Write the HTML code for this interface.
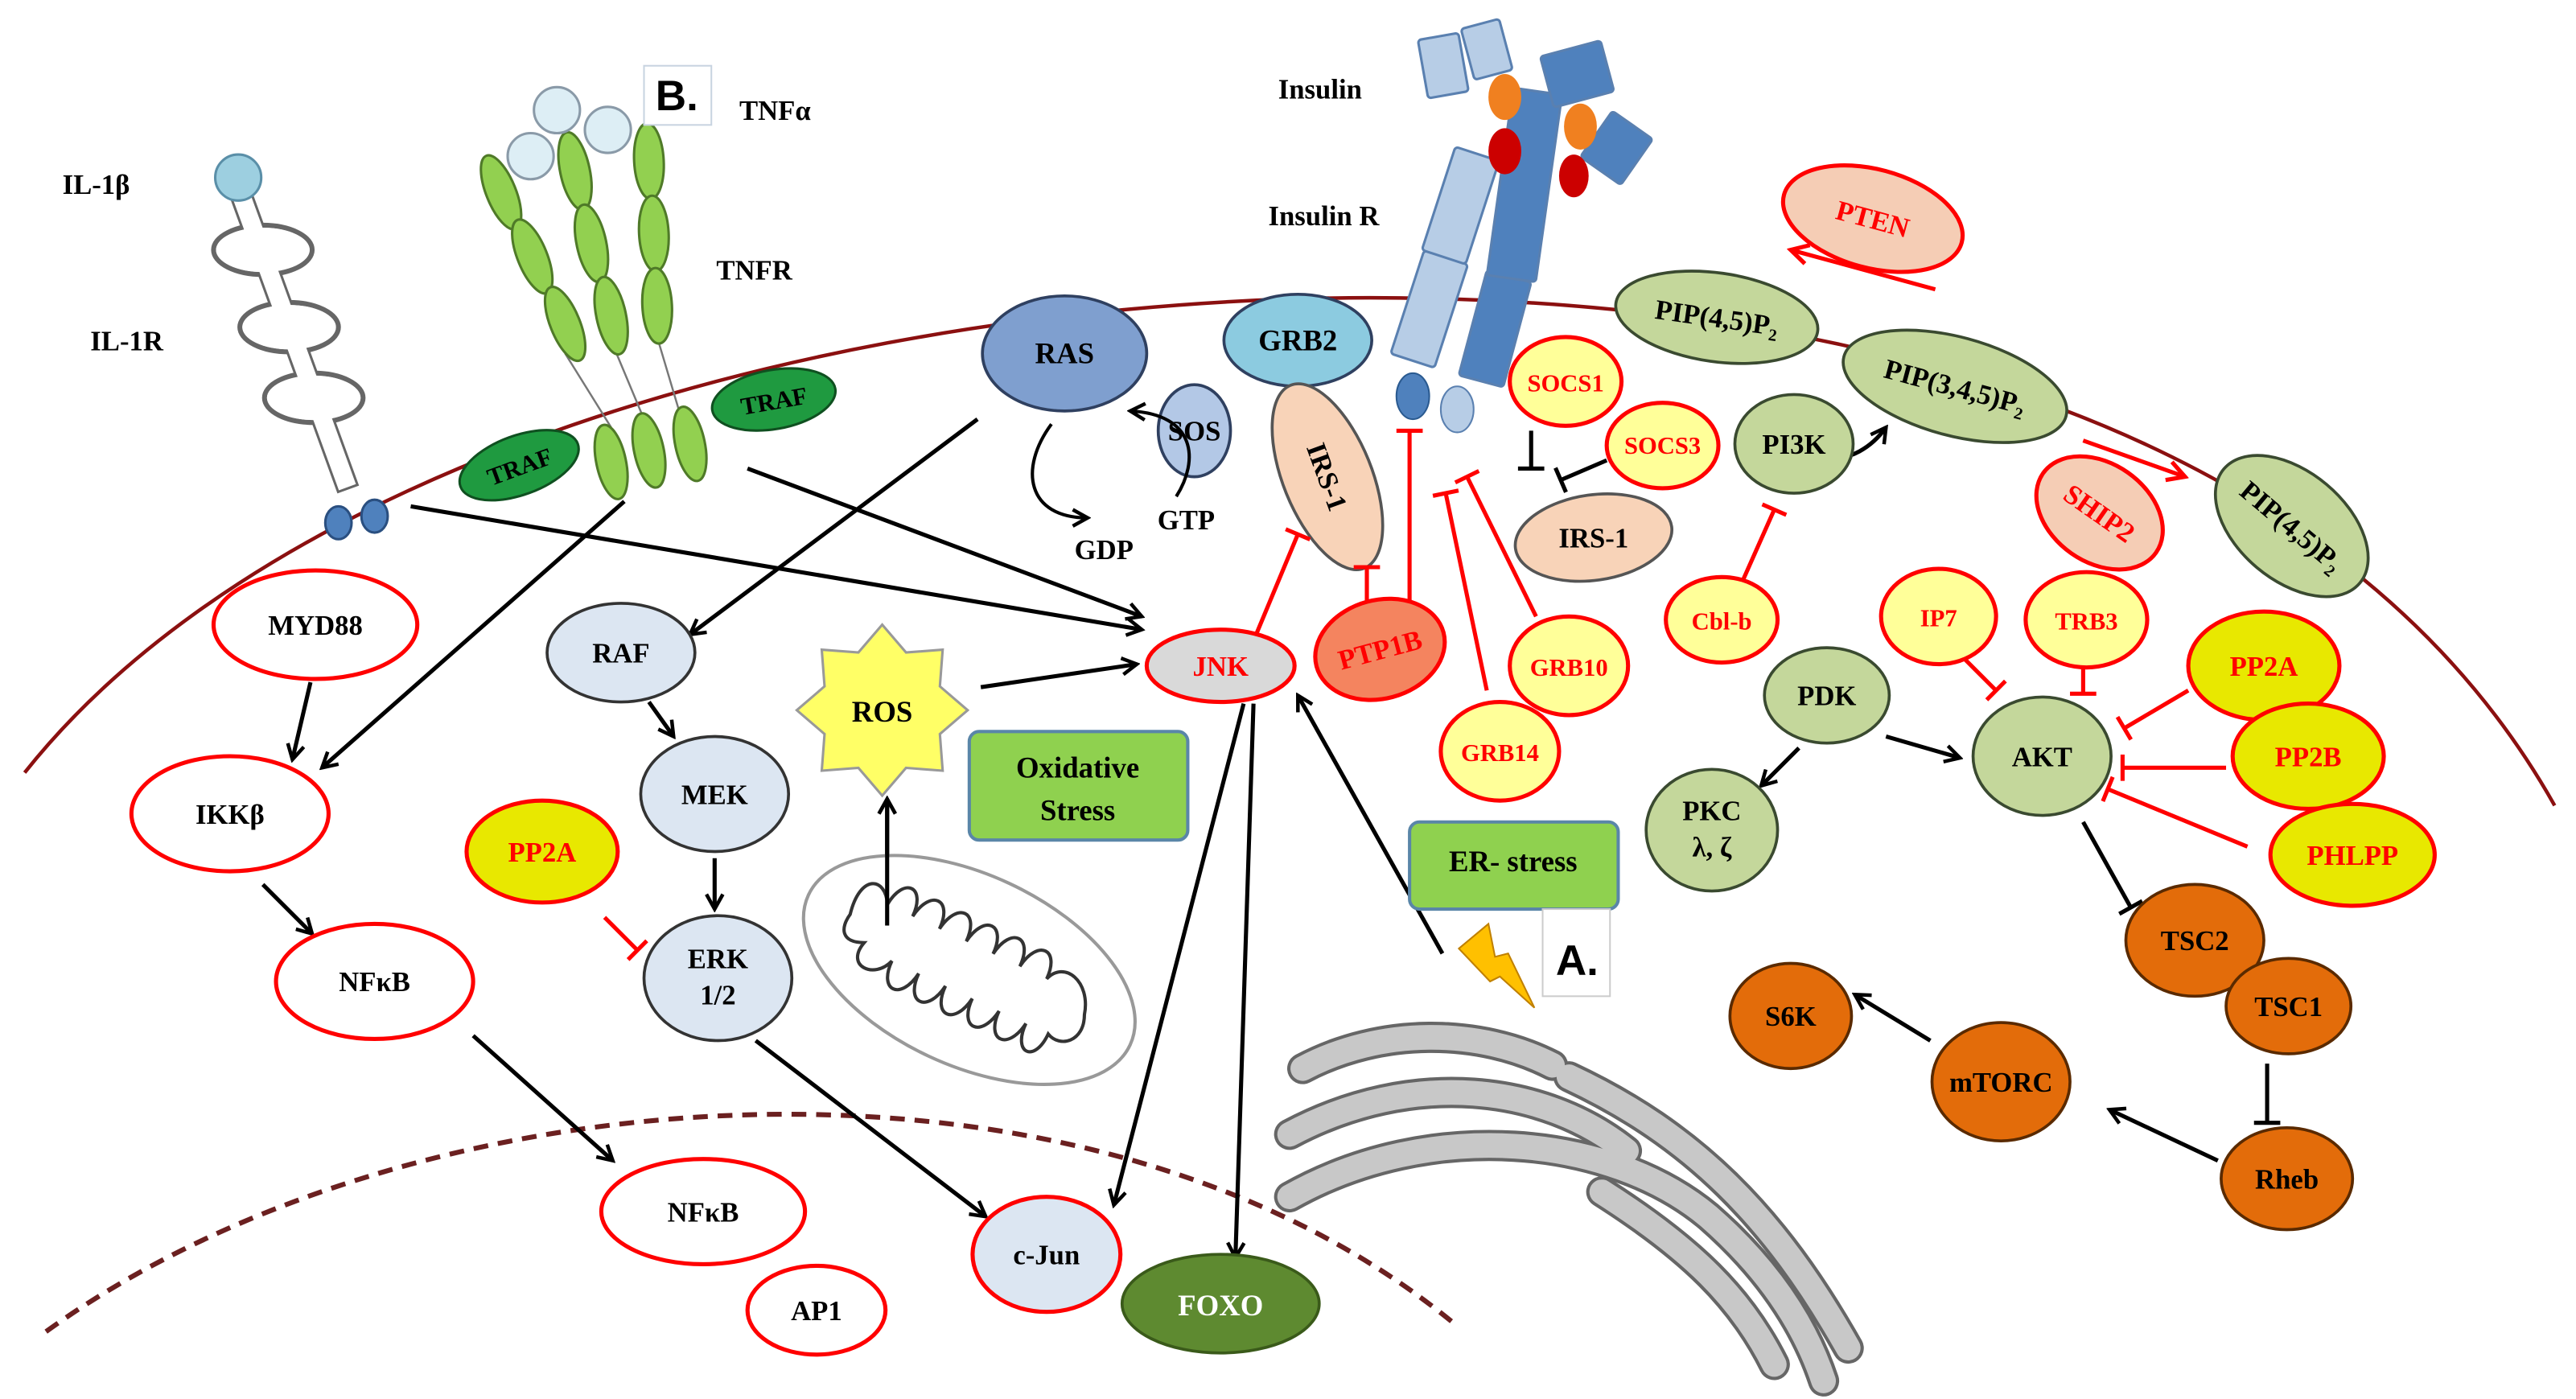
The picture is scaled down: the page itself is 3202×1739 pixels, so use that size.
<!DOCTYPE html>
<html><head><meta charset="utf-8">
<style>
html,body{margin:0;padding:0;background:#fff;}
svg{display:block;}
text{font-family:"Liberation Serif",serif;font-weight:bold;}
</style></head>
<body>
<svg width="3202" height="1739" viewBox="0 0 1568 851" preserveAspectRatio="none" xmlns="http://www.w3.org/2000/svg">
<defs>
<marker id="ab" viewBox="0 0 12 12" refX="10" refY="6" markerWidth="12" markerHeight="12" markerUnits="userSpaceOnUse" orient="auto">
<path d="M1,1 L10,6 L1,11" fill="none" stroke="#000" stroke-width="2.2"/></marker>
<marker id="ar" viewBox="0 0 12 12" refX="10" refY="6" markerWidth="14" markerHeight="14" markerUnits="userSpaceOnUse" orient="auto">
<path d="M1,1 L10,6 L1,11" fill="none" stroke="#f00" stroke-width="2.2"/></marker>
</defs>

<!-- membranes -->
<path d="M15,470 C150,300 450,195 780,182 C1100,172 1420,250 1555,490" fill="none" stroke="#8b1010" stroke-width="2.2"/>
<path d="M28,810 C250,650 660,620 885,805" fill="none" stroke="#6b2020" stroke-width="3" stroke-dasharray="9,6"/>

<!-- IL-1R -->
<g stroke="#666" stroke-width="3" fill="#fff">
<rect x="141" y="118" width="11" height="190" transform="rotate(-20 146 118)"/>
<ellipse cx="160" cy="152" rx="30" ry="15"/>
<ellipse cx="176" cy="199" rx="30" ry="15"/>
<ellipse cx="191" cy="242" rx="30" ry="15"/>
</g>
<g fill="#fff">
<rect x="141" y="118" width="11" height="190" transform="rotate(-20 146 118)"/>
<ellipse cx="160" cy="152" rx="28.5" ry="13.5"/>
<ellipse cx="176" cy="199" rx="28.5" ry="13.5"/>
<ellipse cx="191" cy="242" rx="28.5" ry="13.5"/>
</g>
<circle cx="145" cy="108" r="14" fill="#9dcfe0" stroke="#5a8fa8" stroke-width="1.5"/>
<ellipse cx="206" cy="318" rx="8" ry="10" fill="#4f81bd" stroke="#2a4f80" stroke-width="1.5"/>
<ellipse cx="228" cy="314" rx="8" ry="10" fill="#4f81bd" stroke="#2a4f80" stroke-width="1.5"/>

<!-- TNFR -->
<g stroke="#777" stroke-width="1.2">
<line x1="344" y1="215" x2="372" y2="260"/>
<line x1="374" y1="212" x2="392" y2="255"/>
<line x1="400" y1="205" x2="414" y2="252"/>
</g>
<g fill="#92d050" stroke="#4f7a28" stroke-width="1.5">
<ellipse cx="305" cy="117" rx="9" ry="24" transform="rotate(-22 305 117)"/>
<ellipse cx="324" cy="156" rx="9" ry="24" transform="rotate(-22 324 156)"/>
<ellipse cx="344" cy="197" rx="9" ry="24" transform="rotate(-22 344 197)"/>
<ellipse cx="350" cy="104" rx="9" ry="24" transform="rotate(-12 350 104)"/>
<ellipse cx="360" cy="148" rx="9" ry="24" transform="rotate(-12 360 148)"/>
<ellipse cx="372" cy="192" rx="9" ry="24" transform="rotate(-12 372 192)"/>
<ellipse cx="395" cy="98" rx="9" ry="23" transform="rotate(-3 395 98)"/>
<ellipse cx="398" cy="142" rx="9" ry="23" transform="rotate(-3 398 142)"/>
<ellipse cx="400" cy="186" rx="9" ry="23" transform="rotate(-3 400 186)"/>
<ellipse cx="372" cy="281" rx="9" ry="23" transform="rotate(-12 372 281)"/>
<ellipse cx="395" cy="274" rx="9" ry="23" transform="rotate(-12 395 274)"/>
<ellipse cx="420" cy="270" rx="9" ry="23" transform="rotate(-12 420 270)"/>
</g>
<g fill="#ddeef5" stroke="#8a9aa8" stroke-width="1.5">
<circle cx="339" cy="67" r="14"/><circle cx="370" cy="79" r="14"/><circle cx="323" cy="95" r="14"/>
</g>
<rect x="392" y="40" width="41" height="36" fill="#fff" stroke="#c8d4e0" stroke-width="1"/>
<text x="412" y="67" font-size="26" text-anchor="middle" style="font-family:'Liberation Sans',sans-serif">B.</text>

<ellipse cx="316" cy="283" rx="38" ry="18" transform="rotate(-20 316 283)" fill="#1f9a40" stroke="#0f5020" stroke-width="1.5"/>
<text x="316" y="289" font-size="15" text-anchor="middle" transform="rotate(-20 316 283)">TRAF</text>
<ellipse cx="471" cy="243" rx="38" ry="18" transform="rotate(-10 471 243)" fill="#1f9a40" stroke="#0f5020" stroke-width="1.5"/>
<text x="471" y="249" font-size="15" text-anchor="middle" transform="rotate(-10 471 243)">TRAF</text>

<!-- Labels -->
<g font-size="17">
<text x="38" y="118">IL-1β</text>
<text x="55" y="213">IL-1R</text>
<text x="450" y="73">TNFα</text>
<text x="436" y="170">TNFR</text>
<text x="778" y="60">Insulin</text>
<text x="772" y="137">Insulin R</text>
</g>

<!-- Insulin receptor -->
<g stroke="#5a80b0" stroke-width="1.5">
<rect x="856" y="155" width="28" height="66" rx="2" fill="#b7cde6" transform="rotate(18 870 188)"/>
<rect x="875" y="92" width="28" height="66" rx="2" fill="#b7cde6" transform="rotate(18 889 125)"/>
<rect x="866" y="22" width="25" height="36" rx="2" fill="#b7cde6" transform="rotate(-10 878 40)"/>
<rect x="893" y="14" width="24" height="32" rx="2" fill="#b7cde6" transform="rotate(-15 905 30)"/>
<rect x="896" y="167" width="28" height="66" rx="2" fill="#4f81bd" transform="rotate(15 910 200)"/>
<rect x="913" y="55" width="30" height="115" rx="2" fill="#4f81bd" transform="rotate(8 928 112)"/>
<rect x="941" y="29" width="38" height="32" rx="2" fill="#4f81bd" transform="rotate(-15 960 45)"/>
<rect x="969" y="73" width="30" height="34" rx="2" fill="#4f81bd" transform="rotate(35 984 90)"/>
</g>
<ellipse cx="916" cy="59" rx="10" ry="14" fill="#f08020"/>
<ellipse cx="962" cy="77" rx="10" ry="14" fill="#f08020"/>
<ellipse cx="916" cy="92" rx="10" ry="14" fill="#cc0000"/>
<ellipse cx="958" cy="107" rx="9" ry="13" fill="#cc0000"/>
<ellipse cx="860" cy="241" rx="10" ry="14" fill="#4f81bd" stroke="#2a5a90" stroke-width="1"/>
<ellipse cx="887" cy="249" rx="10" ry="14" fill="#b7cde6" stroke="#5a80b0" stroke-width="1"/>

<!-- RAS cluster -->
<ellipse cx="648" cy="215" rx="50" ry="35" fill="#7f9fcf" stroke="#2f4060" stroke-width="1.8"/>
<text x="648" y="221" font-size="18" text-anchor="middle">RAS</text>
<ellipse cx="790" cy="207" rx="45" ry="28" fill="#8ccbe0" stroke="#2f4060" stroke-width="1.8"/>
<text x="790" y="213" font-size="18" text-anchor="middle">GRB2</text>
<ellipse cx="727" cy="262" rx="22" ry="28" fill="#b3c8e6" stroke="#2f4060" stroke-width="1.8"/>
<text x="727" y="268" font-size="17" text-anchor="middle">SOS</text>
<path d="M640,258 C620,285 625,315 662,315" fill="none" stroke="#000" stroke-width="2" marker-end="url(#ab)"/>
<path d="M716,302 C730,280 728,252 688,250" fill="none" stroke="#000" stroke-width="2" marker-end="url(#ab)"/>
<text x="672" y="340" font-size="17" text-anchor="middle">GDP</text>
<text x="722" y="322" font-size="17" text-anchor="middle">GTP</text>

<!-- IRS-1 tilted -->
<ellipse cx="808" cy="290" rx="27" ry="60" transform="rotate(-22 808 290)" fill="#f8d3b8" stroke="#555" stroke-width="1.8"/>
<text x="808" y="296" font-size="17" text-anchor="middle" transform="rotate(70 808 290)">IRS-1</text>

<!-- Arrows black -->
<g stroke="#000" stroke-width="2.5" fill="none" marker-end="url(#ab)">
<line x1="250" y1="308" x2="695" y2="383"/>
<line x1="455" y1="285" x2="695" y2="375"/>
<line x1="380" y1="305" x2="196" y2="467"/>
<line x1="595" y1="255" x2="420" y2="386"/>
<line x1="189" y1="415" x2="178" y2="462"/>
<line x1="160" y1="538" x2="190" y2="568"/>
<line x1="288" y1="630" x2="373" y2="706"/>
<line x1="395" y1="427" x2="410" y2="448"/>
<line x1="435" y1="522" x2="435" y2="553"/>
<line x1="460" y1="633" x2="600" y2="740"/>
<line x1="597" y1="418" x2="692" y2="404"/>
<line x1="540" y1="563" x2="540" y2="486"/>
<line x1="757" y1="428" x2="678" y2="733"/>
<line x1="763" y1="428" x2="752" y2="765"/>
<line x1="878" y1="580" x2="790" y2="423"/>
<line x1="1148" y1="448" x2="1193" y2="461"/>
<line x1="1095" y1="455" x2="1072" y2="478"/>
<line x1="1350" y1="706" x2="1284" y2="675"/>
<line x1="1175" y1="633" x2="1129" y2="605"/>
<path d="M1080,245 C1095,290 1130,285 1148,260"/>
</g>

<!-- red arrows -->
<line x1="1178" y1="176" x2="1090" y2="152" stroke="#f00" stroke-width="2.5" marker-end="url(#ar)"/>
<line x1="1268" y1="268" x2="1330" y2="290" stroke="#f00" stroke-width="2.5" marker-end="url(#ar)"/>

<!-- red inhibitions -->
<g stroke="#f00" stroke-width="2.5" fill="none">
<line x1="765" y1="385" x2="790" y2="325"/><line x1="782.6" y1="321.9" x2="797.4" y2="328.1"/>
<line x1="832" y1="368" x2="832" y2="345"/><line x1="824" y1="345" x2="840" y2="345"/>
<line x1="858" y1="368" x2="858" y2="262"/><line x1="850" y1="262" x2="866" y2="262"/>
<line x1="905" y1="420" x2="880" y2="300"/><line x1="872.2" y1="301.6" x2="887.8" y2="298.4"/>
<line x1="935" y1="375" x2="893" y2="290"/><line x1="885.8" y1="293.5" x2="900.2" y2="286.5"/>
<line x1="1060" y1="355" x2="1080" y2="310"/><line x1="1072.7" y1="306.8" x2="1087.3" y2="313.2"/>
<line x1="1195" y1="400" x2="1215" y2="420"/><line x1="1220.7" y1="414.3" x2="1209.3" y2="425.7"/>
<line x1="1268" y1="404" x2="1268" y2="422"/><line x1="1260" y1="422" x2="1276" y2="422"/>
<line x1="1332" y1="420" x2="1293" y2="443"/><line x1="1288.9" y1="436.1" x2="1297.1" y2="449.9"/>
<line x1="1355" y1="467" x2="1292" y2="467"/><line x1="1292" y1="459" x2="1292" y2="475"/>
<line x1="1368" y1="515" x2="1283" y2="480"/><line x1="1280" y1="487.4" x2="1286" y2="472.6"/>
<line x1="368" y1="558" x2="388" y2="578"/><line x1="393.7" y1="572.3" x2="382.3" y2="583.7"/>
</g>
<!-- black inhibitions -->
<g stroke="#000" stroke-width="2.5" fill="none">
<line x1="932" y1="262" x2="932" y2="285"/><line x1="924" y1="285" x2="940" y2="285"/>
<line x1="978" y1="280" x2="950" y2="292"/><line x1="946.8" y1="284.6" x2="953.2" y2="299.4"/>
<line x1="1268" y1="500" x2="1297" y2="552"/><line x1="1304" y1="548.1" x2="1290" y2="555.9"/>
<line x1="1380" y1="647" x2="1380" y2="683"/><line x1="1372" y1="683" x2="1388" y2="683"/>
</g>

<!-- Mitochondrion -->
<ellipse cx="590" cy="590" rx="108" ry="58" transform="rotate(25 590 590)" fill="#fff" stroke="#999" stroke-width="2"/>
<g transform="rotate(25 590 590)">
<path d="M510,590 C505,565 520,560 528,575 C530,555 545,555 545,575 C548,555 563,555 563,575 C566,555 581,555 581,575 C584,555 599,555 599,575 C602,555 617,555 617,575 C620,555 635,555 635,575 C640,560 660,565 665,585 C672,600 660,610 650,605 C650,625 635,625 635,605 C632,625 617,625 617,605 C614,625 599,625 599,605 C596,625 581,625 581,605 C578,625 563,625 563,605 C560,625 545,625 545,605 C540,620 520,620 525,602 C512,608 508,600 510,590 Z" fill="#fff" stroke="#333" stroke-width="2"/>
</g>
<line x1="540" y1="563" x2="540" y2="486" stroke="#000" stroke-width="2.5" marker-end="url(#ab)"/>

<!-- ROS star -->
<polygon points="589,432 572.1,446.5 573.8,468.8 551.5,467.1 537,484 522.5,467.1 500.2,468.8 501.9,446.5 485,432 501.9,417.5 500.2,395.2 522.5,396.9 537,380 551.5,396.9 573.8,395.2 572.1,417.5" fill="#ffff66" stroke="#999" stroke-width="1.5"/>
<text x="537" y="439" font-size="18" text-anchor="middle">ROS</text>

<!-- boxes -->
<rect x="590" y="445" width="133" height="66" rx="6" fill="#8fd14f" stroke="#5a86a8" stroke-width="2"/>
<text x="656" y="473" font-size="18" text-anchor="middle">Oxidative</text>
<text x="656" y="499" font-size="18" text-anchor="middle">Stress</text>
<rect x="858" y="500" width="127" height="53" rx="6" fill="#8fd14f" stroke="#5a86a8" stroke-width="2"/>
<text x="921" y="530" font-size="18" text-anchor="middle">ER- stress</text>
<rect x="939" y="553" width="41" height="53" fill="#fff" stroke="#ccc" stroke-width="1"/>
<text x="960" y="593" font-size="26" text-anchor="middle" style="font-family:'Liberation Sans',sans-serif">A.</text>
<polygon points="888,577 906,562 910,582 918,580 934,613 913,594 907,597" fill="#ffc000" stroke="#c08000" stroke-width="1"/>

<!-- ER -->
<g fill="none" stroke-linecap="round">
<g stroke="#666" stroke-width="19">
<path d="M793,650 C840,625 900,625 945,648"/>
<path d="M785,690 C860,650 940,660 990,700"/>
<path d="M785,728 C870,680 980,690 1040,740 C1080,775 1100,810 1110,840"/>
<path d="M955,655 C1030,690 1080,740 1125,820"/>
<path d="M975,725 C1030,760 1060,790 1080,830"/>
</g>
<g stroke="#c8c8c8" stroke-width="15">
<path d="M793,650 C840,625 900,625 945,648"/>
<path d="M785,690 C860,650 940,660 990,700"/>
<path d="M785,728 C870,680 980,690 1040,740 C1080,775 1100,810 1110,840"/>
<path d="M955,655 C1030,690 1080,740 1125,820"/>
<path d="M975,725 C1030,760 1060,790 1080,830"/>
</g>
</g>

<!-- Nodes: red-outlined white -->
<g fill="#fff" stroke="#f00" stroke-width="2.5">
<ellipse cx="192" cy="380" rx="62" ry="33"/>
<ellipse cx="140" cy="495" rx="60" ry="35"/>
<ellipse cx="228" cy="597" rx="60" ry="35"/>
<ellipse cx="428" cy="737" rx="62" ry="32"/>
<ellipse cx="497" cy="797" rx="42" ry="27"/>
</g>
<g font-size="17" text-anchor="middle">
<text x="192" y="386">MYD88</text>
<text x="140" y="501">IKKβ</text>
<text x="228" y="603">NFκB</text>
<text x="428" y="743">NFκB</text>
<text x="497" y="803">AP1</text>
</g>

<!-- light blue nodes -->
<g fill="#dce6f2" stroke="#333" stroke-width="1.8">
<ellipse cx="378" cy="397" rx="45" ry="30"/>
<ellipse cx="435" cy="483" rx="45" ry="35"/>
<ellipse cx="437" cy="595" rx="45" ry="38"/>
</g>
<g font-size="17" text-anchor="middle">
<text x="378" y="403">RAF</text>
<text x="435" y="489">MEK</text>
<text x="437" y="589">ERK</text>
<text x="437" y="611">1/2</text>
</g>
<ellipse cx="637" cy="763" rx="45" ry="35" fill="#dce6f2" stroke="#f00" stroke-width="2.5"/>
<text x="637" y="769" font-size="17" text-anchor="middle">c-Jun</text>
<ellipse cx="743" cy="793" rx="60" ry="30" fill="#5e8a30" stroke="#3a5a1a" stroke-width="1.8"/>
<text x="743" y="800" font-size="18" text-anchor="middle" fill="#fff">FOXO</text>

<!-- JNK, PTP1B -->
<ellipse cx="743" cy="405" rx="45" ry="22" fill="#d9d9d9" stroke="#f00" stroke-width="2.5"/>
<text x="743" y="411" font-size="17" text-anchor="middle" fill="#f00">JNK</text>
<ellipse cx="840" cy="395" rx="40" ry="30" transform="rotate(-15 840 395)" fill="#f4845f" stroke="#f00" stroke-width="2.5"/>
<text x="840" y="401" font-size="17" text-anchor="middle" fill="#f00" transform="rotate(-15 840 395)">PTP1B</text>

<!-- yellow red-outlined -->
<g fill="#ffff99" stroke="#f00" stroke-width="2.5">
<ellipse cx="953" cy="232" rx="34" ry="27"/>
<ellipse cx="1012" cy="271" rx="34" ry="26"/>
<ellipse cx="1048" cy="377" rx="34" ry="26"/>
<ellipse cx="955" cy="405" rx="36" ry="30"/>
<ellipse cx="913" cy="457" rx="36" ry="30"/>
<ellipse cx="1180" cy="375" rx="35" ry="29"/>
<ellipse cx="1270" cy="377" rx="37" ry="29"/>
</g>
<g fill="#e8e800" stroke="#f00" stroke-width="2.5">
<ellipse cx="1378" cy="405" rx="46" ry="33"/>
<ellipse cx="1405" cy="460" rx="46" ry="32"/>
<ellipse cx="1432" cy="520" rx="50" ry="31"/>
<ellipse cx="330" cy="518" rx="46" ry="31"/>
</g>
<g font-size="15" text-anchor="middle" fill="#f00">
<text x="953" y="238">SOCS1</text>
<text x="1012" y="276">SOCS3</text>
<text x="1048" y="383">Cbl-b</text>
<text x="955" y="411">GRB10</text>
<text x="913" y="463">GRB14</text>
<text x="1180" y="381">IP7</text>
<text x="1270" y="383">TRB3</text>
</g>
<g font-size="17" text-anchor="middle" fill="#f00">
<text x="1378" y="411">PP2A</text>
<text x="1405" y="466">PP2B</text>
<text x="1432" y="526">PHLPP</text>
<text x="330" y="524">PP2A</text>
</g>

<!-- IRS-1 right -->
<ellipse cx="970" cy="327" rx="48" ry="26" transform="rotate(-8 970 327)" fill="#f8d3b8" stroke="#555" stroke-width="1.8"/>
<text x="970" y="333" font-size="17" text-anchor="middle">IRS-1</text>

<!-- green nodes -->
<g fill="#c4d79b" stroke="#3a4a30" stroke-width="1.8">
<ellipse cx="1045" cy="193" rx="62" ry="27" transform="rotate(8 1045 193)"/>
<ellipse cx="1190" cy="235" rx="70" ry="30" transform="rotate(15 1190 235)"/>
<ellipse cx="1395" cy="320" rx="54" ry="33" transform="rotate(40 1395 320)"/>
<ellipse cx="1092" cy="270" rx="36" ry="30"/>
<ellipse cx="1112" cy="423" rx="38" ry="29"/>
<ellipse cx="1243" cy="460" rx="42" ry="36"/>
<ellipse cx="1042" cy="505" rx="40" ry="37"/>
</g>
<g font-size="17" text-anchor="middle">
<text x="1045" y="199" transform="rotate(8 1045 193)">PIP(4,5)P₂</text>
<text x="1190" y="241" transform="rotate(15 1190 235)">PIP(3,4,5)P₂</text>
<text x="1395" y="326" transform="rotate(40 1395 320)">PIP(4,5)P₂</text>
<text x="1092" y="276">PI3K</text>
<text x="1112" y="429">PDK</text>
<text x="1243" y="466">AKT</text>
<text x="1042" y="499">PKC</text>
<text x="1042" y="521">λ, ζ</text>
</g>

<!-- PTEN, SHIP2 -->
<ellipse cx="1140" cy="133" rx="56" ry="30" transform="rotate(15 1140 133)" fill="#f5cdb5" stroke="#f00" stroke-width="2.5"/>
<text x="1140" y="139" font-size="17" text-anchor="middle" fill="#f00" transform="rotate(15 1140 133)">PTEN</text>
<ellipse cx="1278" cy="312" rx="42" ry="30" transform="rotate(35 1278 312)" fill="#f5cdb5" stroke="#f00" stroke-width="2.5"/>
<text x="1278" y="318" font-size="17" text-anchor="middle" fill="#f00" transform="rotate(35 1278 312)">SHIP2</text>

<!-- orange nodes -->
<g fill="#e36c0a" stroke="#5a2a00" stroke-width="1.8">
<ellipse cx="1336" cy="572" rx="42" ry="34"/>
<ellipse cx="1393" cy="612" rx="38" ry="29"/>
<ellipse cx="1090" cy="618" rx="37" ry="32"/>
<ellipse cx="1218" cy="658" rx="42" ry="36"/>
<ellipse cx="1392" cy="717" rx="40" ry="31"/>
</g>
<g font-size="17" text-anchor="middle">
<text x="1336" y="578">TSC2</text>
<text x="1393" y="618">TSC1</text>
<text x="1090" y="624">S6K</text>
<text x="1218" y="664">mTORC</text>
<text x="1392" y="723">Rheb</text>
</g>
</svg>
</body></html>
